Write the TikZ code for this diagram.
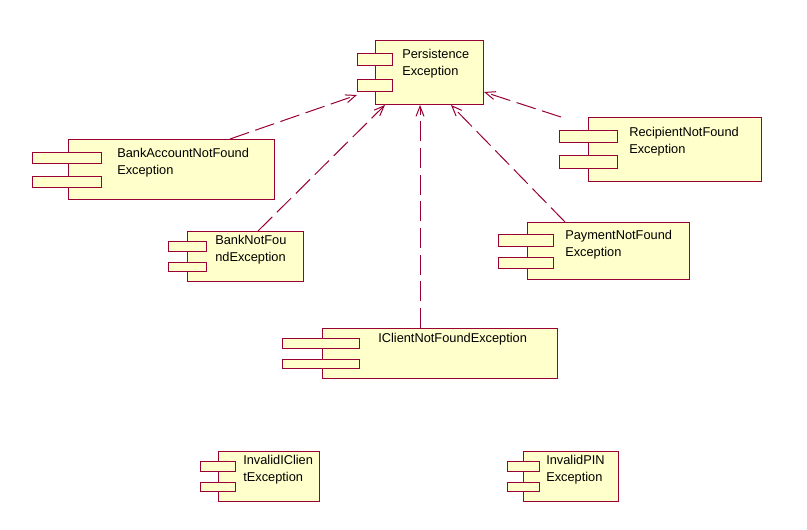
\documentclass[tikz,border=0pt]{standalone}
\usepackage{fontspec}
\setmainfont{Liberation Sans}
\usetikzlibrary{arrows.meta}
\definecolor{umlred}{RGB}{153,0,51}
\definecolor{umlfill}{RGB}{255,255,204}
\tikzset{
  comp/.style={draw=umlred,fill=umlfill,line width=0.75pt,anchor=north west,inner sep=0pt},
  tab/.style={draw=umlred,fill=umlfill,line width=0.75pt},
  compname/.style={anchor=north west,inner sep=0pt,align=left,font=\fontsize{9.6}{12.75}\selectfont},
  dep/.style={draw=umlred,line width=0.75pt,dash pattern=on 15pt off 5pt,-{Straight Barb[length=7.5pt,width=6pt]}}
}
\begin{document}
\begin{tikzpicture}[x=0.75pt,y=-0.75pt]
  \useasboundingbox[fill=white] (0,0) rectangle (807,529);
  % components
  \node[comp,minimum width=81pt,minimum height=48pt] (pers) at (375,40) {};
  \draw[tab] (357,53) rectangle (392,65);
  \draw[tab] (357,79) rectangle (392,91);
  \node[compname] (persname) at (402,49) {Persistence\\Exception};

  \node[comp,minimum width=154.5pt,minimum height=45pt] (bacc) at (68,139) {};
  \draw[tab] (32,152) rectangle (101,163);
  \draw[tab] (32,176) rectangle (101,187);
  \node[compname] (baccname) at (117,148) {BankAccountNotFound\\Exception};

  \node[comp,minimum width=87pt,minimum height=37.5pt] (bank) at (187,231) {};
  \draw[tab] (168,241) rectangle (206,251);
  \draw[tab] (168,262) rectangle (206,271);
  \node[compname] (bankname) at (215,235) {BankNotFou\\ndException};

  \node[comp,minimum width=176.25pt,minimum height=37.5pt] (icli) at (322,328) {};
  \draw[tab] (282,338) rectangle (359,348);
  \draw[tab] (282,359) rectangle (359,368);
  \node[compname] (icliname) at (378,333) {IClientNotFoundException};

  \node[comp,minimum width=75.75pt,minimum height=37.5pt] (invc) at (218,451) {};
  \draw[tab] (200,461) rectangle (235,471);
  \draw[tab] (200,482) rectangle (235,491);
  \node[compname] (invcname) at (243,455) {InvalidIClien\\tException};

  \node[comp,minimum width=71.25pt,minimum height=37.5pt] (pin) at (523,451) {};
  \draw[tab] (507,461) rectangle (539,471);
  \draw[tab] (507,482) rectangle (539,491);
  \node[compname] (pinname) at (546,455) {InvalidPIN\\Exception};

  \node[comp,minimum width=129.75pt,minimum height=48pt] (reci) at (588,117) {};
  \draw[tab] (559,130) rectangle (617,142);
  \draw[tab] (559,155) rectangle (617,168);
  \node[compname] (reciname) at (629,127) {RecipientNotFound\\Exception};

  \node[comp,minimum width=121.5pt,minimum height=42.75pt] (paym) at (527,222) {};
  \draw[tab] (498,234) rectangle (553,246);
  \draw[tab] (498,257) rectangle (553,268);
  \node[compname] (paymname) at (565,230) {PaymentNotFound\\Exception};

  % dependencies
  \draw[dep] ([shift={(162,0)}]bacc.north west) -- ([shift={(-18,-10)}]pers.south west);
  \draw[dep] ([shift={(71,0)}]bank.north west) -- ([shift={(10,0)}]pers.south west);
  \draw[dep] ([shift={(98,0)}]icli.north west) -- ([shift={(45,0)}]pers.south west);
  \draw[dep] ([shift={(38,0)}]paym.north west) -- ([shift={(76,0)}]pers.south west);
  \draw[dep] ([shift={(-27,0)}]reci.north west) -- ([shift={(0,-13)}]pers.south east);
\end{tikzpicture}
\end{document}
